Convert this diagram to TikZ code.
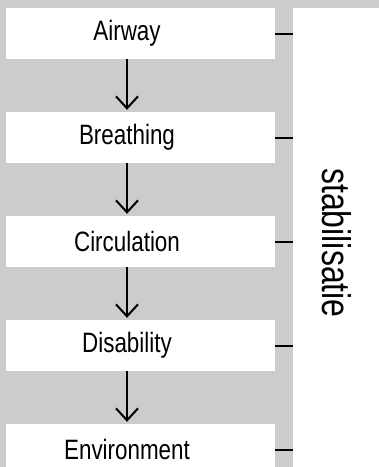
\documentclass[tikz,border=0pt]{standalone}
\usepackage{fontspec}
\setmainfont[FakeStretch=0.8]{Liberation Sans}
\usetikzlibrary{arrows.meta}
\definecolor{achtergrond}{HTML}{CCCCCC}
\begin{document}
\begin{tikzpicture}[x=1pt, y=-1pt,
  stapbox/.style={fill=white, inner sep=0pt, minimum width=269pt, minimum height=51pt},
  staptekst/.style={inner sep=0pt, font=\fontsize{28}{33}\selectfont},
  pijl/.style={line width=2pt, -{Straight Barb[length=12pt, width=22pt]}, shorten >=2pt},
  streep/.style={line width=2pt}]
% Set the canvas
\useasboundingbox (0,0) rectangle (379,467);
\clip (0,0) rectangle (379,467);
\fill[achtergrond] (0,0) rectangle (379,467);
\fill[white] (293,8) rectangle (379,467);
\coordinate (rand) at (293,8);

% Draw the boxes and insert the steps
\node[stapbox] (air) at (140.5, 33.5) {};
\node[staptekst] (airT) at (127, 33.5) {Airway};
\node[stapbox] (bre) at (140.5, 137.5) {};
\node[staptekst] (breT) at (127, 137.5) {Breathing};
\node[stapbox] (cir) at (140.5, 241.5) {};
\node[staptekst] (cirT) at (127, 241.5) {Circulation};
\node[stapbox] (dis) at (140.5, 345.5) {};
\node[staptekst] (disT) at (127, 345.5) {Disability};
\node[stapbox] (env) at (140.5, 449.5) {};
\node[staptekst] (envT) at (127, 449.5) {Environment};

% Arrows between the steps
\draw[pijl] (airT |- air.south) -- (airT |- bre.north);
\draw[pijl] (breT |- bre.south) -- (breT |- cir.north);
\draw[pijl] (cirT |- cir.south) -- (cirT |- dis.north);
\draw[pijl] (disT |- dis.south) -- (disT |- env.north);

% Ticks to the side panel
\draw[streep] (air.east) -- (air.east -| rand);
\draw[streep] (bre.east) -- (bre.east -| rand);
\draw[streep] (cir.east) -- (cir.east -| rand);
\draw[streep] (dis.east) -- (dis.east -| rand);
\draw[streep] (env.east) -- (env.east -| rand);
\node[rotate=-90, inner sep=0pt, font=\fontsize{40}{48}\selectfont] (stab) at (337, 243) {stabilisatie};
\end{tikzpicture}
\end{document}
